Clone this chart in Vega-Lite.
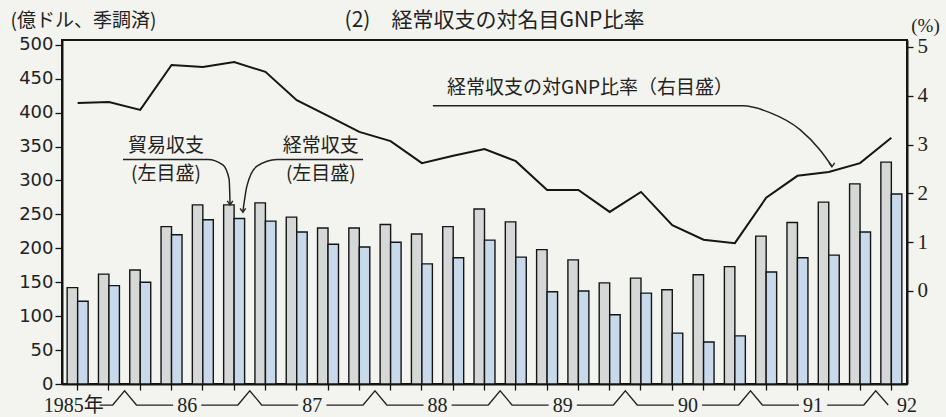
{
  "$schema": "https://vega.github.io/schema/vega-lite/v6.json",
  "width": 845,
  "height": 344,
  "autosize": {"type": "none"},
  "padding": {"left": 62, "top": 40, "right": 39, "bottom": 33},
  "background": "#f3f4ef",
  "title": {"text": "(2)　経常収支の対名目GNP比率", "font": "Noto Sans CJK JP", "fontSize": 21, "fontWeight": "normal", "color": "#222", "anchor": "middle", "frame": "group", "offset": 17, "dx": 10, "dy": 37},
  "config": {
    "view": {"stroke": "#151515", "strokeWidth": 2},
    "axis": {"grid": false, "domainColor": "#151515", "domainWidth": 2, "tickColor": "#151515", "tickWidth": 1.3, "labelColor": "#222", "titleColor": "#222"}
  },
  "datasets": {
    "quarters": [
      {"q": "1985Q3", "trade": 142, "current": 122, "ratio": 3.85},
      {"q": "1985Q4", "trade": 162, "current": 145, "ratio": 3.87},
      {"q": "1986Q1", "trade": 168, "current": 150, "ratio": 3.71},
      {"q": "1986Q2", "trade": 232, "current": 220, "ratio": 4.63},
      {"q": "1986Q3", "trade": 264, "current": 242, "ratio": 4.59},
      {"q": "1986Q4", "trade": 264, "current": 244, "ratio": 4.69},
      {"q": "1987Q1", "trade": 267, "current": 240, "ratio": 4.49},
      {"q": "1987Q2", "trade": 246, "current": 224, "ratio": 3.91},
      {"q": "1987Q3", "trade": 230, "current": 206, "ratio": 3.59},
      {"q": "1987Q4", "trade": 230, "current": 202, "ratio": 3.26},
      {"q": "1988Q1", "trade": 235, "current": 209, "ratio": 3.07},
      {"q": "1988Q2", "trade": 221, "current": 177, "ratio": 2.62},
      {"q": "1988Q3", "trade": 232, "current": 186, "ratio": 2.77},
      {"q": "1988Q4", "trade": 258, "current": 212, "ratio": 2.91},
      {"q": "1989Q1", "trade": 239, "current": 187, "ratio": 2.66},
      {"q": "1989Q2", "trade": 198, "current": 136, "ratio": 2.07},
      {"q": "1989Q3", "trade": 183, "current": 137, "ratio": 2.07},
      {"q": "1989Q4", "trade": 149, "current": 102, "ratio": 1.62},
      {"q": "1990Q1", "trade": 156, "current": 134, "ratio": 2.03},
      {"q": "1990Q2", "trade": 139, "current": 75, "ratio": 1.35},
      {"q": "1990Q3", "trade": 161, "current": 62, "ratio": 1.05},
      {"q": "1990Q4", "trade": 173, "current": 71, "ratio": 0.98},
      {"q": "1991Q1", "trade": 218, "current": 165, "ratio": 1.91},
      {"q": "1991Q2", "trade": 238, "current": 186, "ratio": 2.36},
      {"q": "1991Q3", "trade": 268, "current": 190, "ratio": 2.44},
      {"q": "1991Q4", "trade": 295, "current": 224, "ratio": 2.62},
      {"q": "1992Q1", "trade": 327, "current": 280, "ratio": 3.14}
    ],
    "notes": [
      {"text": "貿易収支", "u": 3.32, "v": 351},
      {"text": "(左目盛)", "u": 3.32, "v": 309},
      {"text": "経常収支", "u": 8.27, "v": 351},
      {"text": "(左目盛)", "u": 8.27, "v": 309},
      {"text": "経常収支の対GNP比率（右目盛）", "u": 16.87, "v": 436}
    ],
    "leaders": [
      {"id": "trade", "u": 1.95, "v": 331},
      {"id": "trade", "u": 4.66, "v": 331},
      {"id": "trade", "u": 5.14, "v": 323},
      {"id": "trade", "u": 5.34, "v": 302},
      {"id": "trade", "u": 5.37, "v": 265},
      {"id": "current", "u": 5.78, "v": 254},
      {"id": "current", "u": 5.91, "v": 292},
      {"id": "current", "u": 6.23, "v": 321},
      {"id": "current", "u": 6.87, "v": 331},
      {"id": "current", "u": 9.62, "v": 331},
      {"id": "ratio", "u": 11.85, "v": 410},
      {"id": "ratio", "u": 21.76, "v": 410},
      {"id": "ratio", "u": 22.62, "v": 400},
      {"id": "ratio", "u": 23.58, "v": 375},
      {"id": "ratio", "u": 24.22, "v": 345},
      {"id": "ratio", "u": 24.6, "v": 321}
    ],
    "heads": [
      {"id": "trade", "u": 5.37, "v": 264},
      {"id": "current", "u": 5.78, "v": 253},
      {"id": "ratio", "u": 24.6, "v": 320}
    ],
    "years": [
      {"seg": 1, "u": 1.2, "v": -31}, {"seg": 1, "u": 1.62, "v": -31}, {"seg": 1, "u": 2.0, "v": -10}, {"seg": 1, "u": 2.38, "v": -31}, {"seg": 1, "u": 3.55, "v": -31},
      {"seg": 2, "u": 4.45, "v": -31}, {"seg": 2, "u": 5.62, "v": -31}, {"seg": 2, "u": 6.0, "v": -10}, {"seg": 2, "u": 6.38, "v": -31}, {"seg": 2, "u": 7.55, "v": -31},
      {"seg": 3, "u": 8.45, "v": -31}, {"seg": 3, "u": 9.62, "v": -31}, {"seg": 3, "u": 10.0, "v": -10}, {"seg": 3, "u": 10.38, "v": -31}, {"seg": 3, "u": 11.55, "v": -31},
      {"seg": 4, "u": 12.45, "v": -31}, {"seg": 4, "u": 13.62, "v": -31}, {"seg": 4, "u": 14.0, "v": -10}, {"seg": 4, "u": 14.38, "v": -31}, {"seg": 4, "u": 15.55, "v": -31},
      {"seg": 5, "u": 16.45, "v": -31}, {"seg": 5, "u": 17.62, "v": -31}, {"seg": 5, "u": 18.0, "v": -10}, {"seg": 5, "u": 18.38, "v": -31}, {"seg": 5, "u": 19.55, "v": -31},
      {"seg": 6, "u": 20.45, "v": -31}, {"seg": 6, "u": 21.62, "v": -31}, {"seg": 6, "u": 22.0, "v": -10}, {"seg": 6, "u": 22.38, "v": -31}, {"seg": 6, "u": 23.55, "v": -31},
      {"seg": 7, "u": 24.45, "v": -31}, {"seg": 7, "u": 25.62, "v": -31}, {"seg": 7, "u": 26.0, "v": -10}, {"seg": 7, "u": 26.4, "v": -31}
    ]
  },
  "layer": [
    {
      "data": {"name": "quarters"},
      "transform": [{"fold": ["trade", "current"], "as": ["series", "value"]}],
      "mark": {"type": "bar", "stroke": "#151515", "strokeWidth": 1.4},
      "encoding": {
        "x": {
          "field": "q", "type": "ordinal", "sort": null,
          "scale": {"paddingInner": 0.33, "paddingOuter": 0.165},
          "axis": {
            "title": null, "tickSize": 6, "labelAngle": 0, "labelOverlap": false, "labelFlush": false,
            "labelFont": "Liberation Serif, Noto Sans CJK JP", "labelFontSize": 20, "labelPadding": 5,
            "labelExpr": "datum.value == '1985Q3' ? '1985年' : ((slice(datum.value, 4) == 'Q2' || datum.value == '1992Q1') ? slice(datum.value, 2, 4) : '')",
            "labelOffset": {"condition": {"test": "datum.value == '1985Q3'", "value": -4}, "value": 15.65}
          }
        },
        "xOffset": {"field": "series", "type": "nominal", "sort": ["trade", "current"], "scale": {"paddingInner": 0, "paddingOuter": 0}},
        "y": {
          "field": "value", "type": "quantitative",
          "scale": {"domain": [0, 507], "nice": false, "zero": false},
          "axis": {
            "values": [0, 50, 100, 150, 200, 250, 300, 350, 400, 450, 500],
            "tickSize": 7, "labelFont": "DejaVu Sans", "labelFontSize": 18, "labelPadding": 2,
            "title": "(億ドル、季調済)", "titleAngle": 0, "titleAlign": "left", "titleBaseline": "alphabetic",
            "titleX": -52, "titleY": -14, "titleFont": "Noto Sans CJK JP", "titleFontSize": 19, "titleFontWeight": "normal"
          }
        },
        "color": {"field": "series", "type": "nominal", "scale": {"domain": ["trade", "current"], "range": ["#d5d8d6", "#c7d9ea"]}, "legend": null}
      }
    },
    {
      "data": {"name": "quarters"},
      "mark": {"type": "line", "color": "#151515", "strokeWidth": 2},
      "encoding": {
        "x": {"field": "q", "type": "ordinal", "sort": null, "scale": {"type": "point", "padding": 0.5}, "axis": null},
        "y": {
          "field": "ratio", "type": "quantitative",
          "scale": {"domain": [-1.906, 5.143], "nice": false, "zero": false},
          "axis": {
            "orient": "right", "values": [0, 1, 2, 3, 4, 5], "tickSize": 6,
            "labelFont": "Liberation Serif", "labelFontSize": 21, "labelPadding": 4,
            "title": "(%)", "titleAngle": 0, "titleAlign": "center", "titleBaseline": "alphabetic",
            "titleX": 18, "titleY": -9, "titleFont": "Liberation Serif", "titleFontSize": 19, "titleFontWeight": "normal"
          }
        }
      }
    },
    {
      "data": {"name": "notes"},
      "mark": {"type": "text", "font": "Noto Sans CJK JP", "fontSize": 19, "color": "#222", "align": "center", "baseline": "middle"},
      "encoding": {
        "x": {"field": "u", "type": "quantitative", "scale": {"domain": [0, 27], "nice": false, "zero": false}, "axis": null},
        "y": {"field": "v", "type": "quantitative", "scale": {"domain": [0, 507], "nice": false, "zero": false}, "axis": null},
        "text": {"field": "text"}
      }
    },
    {
      "data": {"name": "leaders"},
      "mark": {"type": "line", "color": "#222", "strokeWidth": 1.5, "interpolate": "monotone"},
      "encoding": {
        "x": {"field": "u", "type": "quantitative", "scale": {"domain": [0, 27], "nice": false, "zero": false}, "axis": null},
        "y": {"field": "v", "type": "quantitative", "scale": {"domain": [0, 507], "nice": false, "zero": false}, "axis": null},
        "detail": {"field": "id"}
      }
    },
    {
      "data": {"name": "heads"},
      "mark": {"type": "point", "shape": "M-0.7,-1L0,0L0.7,-1", "filled": false, "size": 64, "stroke": "#222", "strokeWidth": 1.4, "opacity": 1},
      "encoding": {
        "x": {"field": "u", "type": "quantitative", "scale": {"domain": [0, 27], "nice": false, "zero": false}, "axis": null},
        "y": {"field": "v", "type": "quantitative", "scale": {"domain": [0, 507], "nice": false, "zero": false}, "axis": null}
      }
    },
    {
      "data": {"name": "years"},
      "mark": {"type": "line", "color": "#222", "strokeWidth": 1.3},
      "encoding": {
        "x": {"field": "u", "type": "quantitative", "scale": {"domain": [0, 27], "nice": false, "zero": false}, "axis": null},
        "y": {"field": "v", "type": "quantitative", "scale": {"domain": [0, 507], "nice": false, "zero": false}, "axis": null},
        "detail": {"field": "seg"}
      }
    }
  ],
  "resolve": {"scale": {"x": "independent", "y": "independent"}}
}
